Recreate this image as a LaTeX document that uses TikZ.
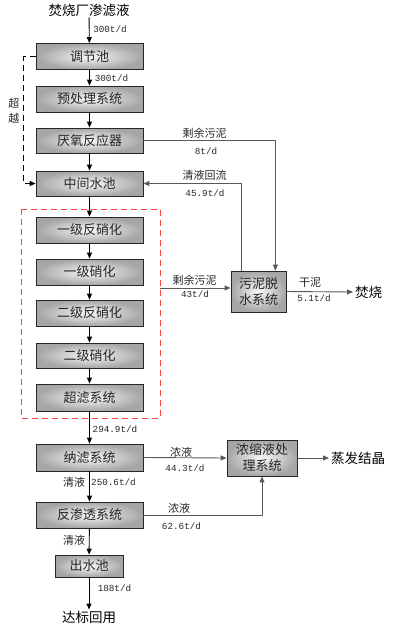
\documentclass[tikz,border=0pt]{standalone}
\usepackage{fontspec}
\setmainfont{Noto Sans CJK SC}
\newfontfamily\numf{Liberation Mono}
\usetikzlibrary{arrows.meta}
\begin{document}
\begin{tikzpicture}[x=1pt,y=-1pt,
  box/.style={draw=black!85, line width=0.8pt, shading=radial, outer color=gray!70, inner color=gray!6,
    minimum width=107pt, minimum height=26pt, inner sep=0pt, font=\fontsize{13}{15}\selectfont, text=black!85},
  big/.style={inner sep=1pt, font=\fontsize{13.5}{15}\selectfont},
  lab/.style={inner sep=0pt, font=\fontsize{11}{12}\selectfont, text=black!85},
  num/.style={inner sep=0pt, font=\numf\fontsize{9.3}{10}\selectfont, text=black!85},
  flow/.style={draw=black, line width=0.9pt, -{Triangle[length=6pt,width=5pt]}},
  side/.style={draw=black!65, line width=0.9pt},
  sidearr/.style={side, -{Triangle[length=6pt,width=5pt]}}]
\useasboundingbox (0,0) rectangle (407,632);

% main column
\node[big] (src) at (89,10) {焚烧厂渗滤液};
\node[box] (tj) at (89.5,56.5) {调节池};
\node[box] (yc) at (89.5,99) {预处理系统};
\node[box, minimum height=25pt] (yy) at (89.5,140.5) {厌氧反应器};
\node[box, minimum height=25pt] (zj) at (89.5,183.5) {中间水池};
\node[box] (f1) at (89.5,230) {一级反硝化};
\node[box] (n1) at (89.5,272) {一级硝化};
\node[box] (f2) at (89.5,313) {二级反硝化};
\node[box, minimum height=25pt] (n2) at (89.5,355.5) {二级硝化};
\node[box, minimum height=27pt] (cl) at (89.5,397.5) {超滤系统};
\node[box, minimum height=27pt] (nf) at (89.5,457.5) {纳滤系统};
\node[box] (ro) at (89.5,515) {反渗透系统};
\node[box, minimum width=68pt, minimum height=22pt] (cs) at (89,566) {出水池};
\node[big] (dst) at (89,617) {达标回用};

% side boxes
\node[box, minimum width=55pt, minimum height=41pt, align=center, font=\fontsize{13}{16}\selectfont] (sl) at (258.5,291.5) {污泥脱\\水系统};
\node[box, minimum width=70pt, minimum height=36pt, align=center, font=\fontsize{13}{16}\selectfont] (cc) at (262,458) {浓缩液处\\理系统};
\node[big, anchor=west, inner sep=2pt] (burn) at (353,292) {焚烧};
\node[big, anchor=west, inner sep=2pt] (evap) at (329,458) {蒸发结晶};

% red dashed group
\draw[red!75, line width=1pt, dash pattern=on 6pt off 4pt] (21,209) rectangle (160,418);
\coordinate (rr) at (160,288);

% main flow
\draw[flow] (src) -- (tj);
\draw[flow] (tj) -- (yc);
\draw[flow] (yc) -- (yy);
\draw[flow] (yy) -- (zj);
\draw[flow] (zj) -- (f1);
\draw[flow] (f1) -- (n1);
\draw[flow] (n1) -- (f2);
\draw[flow] (f2) -- (n2);
\draw[flow] (n2) -- (cl);
\draw[flow] (cl) -- (nf);
\draw[flow] (nf) -- (ro);
\draw[flow] (ro) -- (cs);
\draw[flow] (cs) -- (dst);

% bypass
\draw[line width=0.9pt, dash pattern=on 6pt off 4pt, -{Triangle[length=6pt,width=5pt]}] (tj.west) -- ++(-12,0) |- (zj.west);
\node[lab, align=center, font=\fontsize{11}{15}\selectfont] (cy) at (14,111) {超\\越};

% side flows
\draw[sidearr] (yy.east) -| ([xshift=-11pt]sl.north east);
\draw[sidearr] ([xshift=11pt]sl.north west) |- (zj.east);
\draw[sidearr] (rr) -- (rr -| sl.west);
\draw[sidearr] (sl.east) -- (burn.west);
\draw[sidearr] (nf.east) -- (cc.west);
\draw[sidearr] (ro.east) -| (cc.south);
\draw[sidearr] (cc.east) -- (evap.west);

% labels
\node[num] (l1) at (110,29) {300t/d};
\node[num] (l2) at (111.5,78) {300t/d};
\node[num] (l3) at (115,429) {294.9t/d};
\node[lab] (l4) at (74,482) {清液};
\node[num] (l5) at (113.5,482) {250.6t/d};
\node[lab] (l6) at (74,540) {清液};
\node[num] (l7) at (114.5,588) {188t/d};
\node[lab] (l8) at (204.5,133) {剩余污泥};
\node[num] (l9) at (206,151) {8t/d};
\node[lab] (l10) at (204.5,175) {清液回流};
\node[num] (l11) at (205,193) {45.9t/d};
\node[lab] (l12) at (194.5,280) {剩余污泥};
\node[num] (l13) at (195,294) {43t/d};
\node[lab] (l14) at (310,282) {干泥};
\node[num] (l15) at (314,298) {5.1t/d};
\node[lab] (l16) at (181,452) {浓液};
\node[num] (l17) at (185,468) {44.3t/d};
\node[lab] (l18) at (179,508) {浓液};
\node[num] (l19) at (181.5,526) {62.6t/d};
\end{tikzpicture}
\end{document}
